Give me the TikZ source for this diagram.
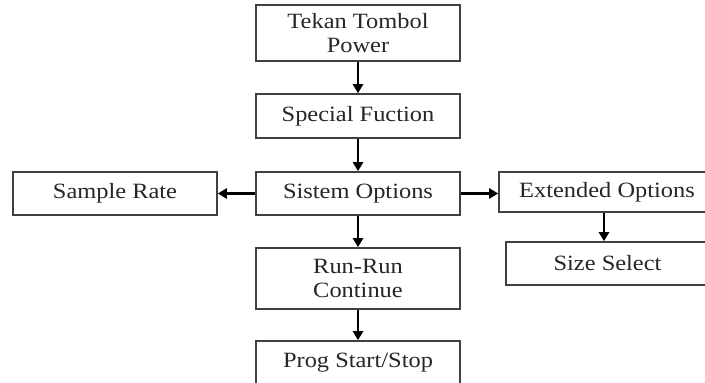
\documentclass[tikz,border=0pt]{standalone}
\usepackage{fontspec}
\setmainfont{Liberation Serif}[FakeStretch=1.12]
\usetikzlibrary{arrows.meta}
\begin{document}
\begin{tikzpicture}[x=1pt,y=-1pt,
 box/.style={draw=black!75, line width=1.6pt, fill=white, minimum width=204pt, inner sep=0pt, align=center, font=\fontsize{21.8}{23.5}\selectfont, text=black!85},
 arr/.style={-{Triangle[width=10pt,length=9pt]}, line width=2.4pt, black}]
\useasboundingbox (0,0) rectangle (705,383);
\clip (0,0) rectangle (705,383);
\node[box, minimum height=56pt] (p) at (358,33) {Tekan Tombol\\Power};
\node[box, minimum height=44pt] (s) at (358,116) {Special Fuction};
\node[box, minimum height=43pt] (so) at (358,193.5) {Sistem Options};
\node[box, minimum height=43pt] (sr) at (115,193.5) {Sample Rate};
\node[box, minimum width=216pt, minimum height=40pt] (eo) at (607,192) {Extended Options};
\node[box, minimum width=203pt, minimum height=43pt] (ss) at (607.5,263.5) {Size Select};
\node[box, minimum height=61pt] (rr) at (358,278.5) {Run-Run\\Continue};
\node[box, minimum height=44pt] (ps) at (358,363) {Prog Start/Stop};
\draw[arr] (p) -- (s);
\draw[arr] (s) -- (so);
\draw[arr] (so) -- (sr);
\draw[arr] (so.east) -- (so.east -| eo.west);
\draw[arr] ([xshift=-3pt]eo.south) -- ([xshift=-3pt]eo.south |- ss.north);
\draw[arr] (so) -- (rr);
\draw[arr] (rr) -- (ps);
\end{tikzpicture}
\end{document}
